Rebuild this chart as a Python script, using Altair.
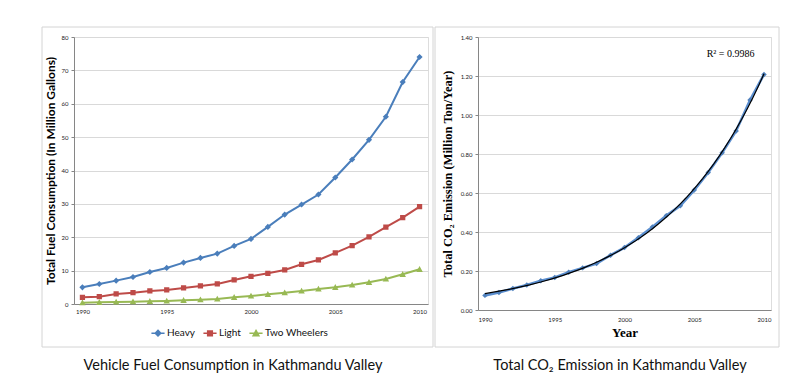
import altair as alt
import pandas as pd

years = list(range(1990, 2011))
heavy = [5.0, 6.0, 7.0, 8.1, 9.6, 10.8, 12.4, 13.8, 15.1, 17.4, 19.5,
         23.1, 26.8, 29.8, 32.8, 37.9, 43.3, 49.2, 56.1, 66.5, 74.0]
light = [2.0, 2.2, 3.0, 3.4, 3.9, 4.2, 4.8, 5.4, 6.0, 7.2, 8.3,
         9.2, 10.2, 11.9, 13.2, 15.3, 17.5, 20.1, 23.0, 25.9, 29.2]
two_wheelers = [0.4, 0.5, 0.6, 0.7, 0.8, 0.9, 1.1, 1.3, 1.5, 2.0, 2.4,
                2.9, 3.4, 3.9, 4.5, 5.0, 5.7, 6.5, 7.5, 8.9, 10.4]
co2 = [0.075, 0.090, 0.110, 0.128, 0.150, 0.167, 0.194, 0.216, 0.238, 0.281, 0.320,
       0.371, 0.426, 0.484, 0.535, 0.615, 0.705, 0.806, 0.918, 1.077, 1.208]

series_names = ["Heavy", "Light", "Two Wheelers"]
series_colors = ["#4A7EBB", "#BE4B48", "#98B954"]
# marker shapes, each with a horizontal stub that is only stroked in the legend
series_shapes = [
    "M-2.4,0H2.4M0,-1L1,0L0,1L-1,0Z",
    "M-2.4,0H2.4M-0.85,-0.85H0.85V0.85H-0.85Z",
    "M-2.4,0H2.4M0,-1.05L1.05,0.85H-1.05Z",
]
x_ticks = [1990, 1995, 2000, 2005, 2010]
fuel_ticks = [0, 10, 20, 30, 40, 50, 60, 70, 80]
co2_ticks = [0, 0.2, 0.4, 0.6, 0.8, 1.0, 1.2, 1.4]
r2_label = ["R\u00b2 = 0.9986"]
r2_pos_year = [2007.6]
r2_pos_value = [1.313]
left_caption = "Vehicle Fuel Consumption in Kathmandu Valley"
right_caption = "Total CO\u2082 Emission in Kathmandu Valley"
left_ytitle = "Total Fuel Consumption (In Million Gallons)"
right_ytitle = "Total CO\u2082 Emission (Million Ton/Year)"
right_xtitle = "Year"

fuel = pd.DataFrame({
    "year": years * 3,
    "series": [series_names[0]] * 21 + [series_names[1]] * 21 + [series_names[2]] * 21,
    "value": heavy + light + two_wheelers,
})
co2_df = pd.DataFrame({"year": years, "value": co2})
r2_df = pd.DataFrame({"year": r2_pos_year, "value": r2_pos_value, "label": r2_label})
one = pd.DataFrame({"k": [0]})

AXIS_GRAY = "#868686"
GRID = "#d9d9d9"
BOX = "#d4d4d4"

LW, LH = 354, 267
RW, RH = 293, 273

# ---------- left chart ----------
lx = alt.X("year:Q", scale=alt.Scale(domain=[1989.5, 2010.5], nice=False, zero=False),
           axis=alt.Axis(values=x_ticks, format="d", title=None, grid=False, ticks=False,
                         labelFontSize=6, labelPadding=4, labelFont="Lato",
                         domainColor=AXIS_GRAY, labelColor="#222"))
ly = alt.Y("value:Q", scale=alt.Scale(domain=[0, 80], nice=False),
           axis=alt.Axis(values=fuel_ticks, title=left_ytitle, titleFont="Lato",
                         titleFontSize=12, titleFontWeight="bold", titleColor="black",
                         titlePadding=4, labelFontSize=6, labelFont="Lato", labelColor="#222",
                         tickSize=3, tickColor=AXIS_GRAY, gridColor=GRID,
                         domainColor=AXIS_GRAY, labelPadding=3))

cscale = alt.Scale(domain=series_names, range=series_colors)
leg = alt.Legend(title=None, orient="none", legendX=79, legendY=291, direction="horizontal",
                 labelFont="Lato", labelFontSize=10, labelColor="#111", symbolSize=30,
                 labelOffset=4, columnPadding=5)

left_lines = alt.Chart(fuel).mark_line(strokeWidth=2).encode(
    x=lx, y=ly, color=alt.Color("series:N", scale=cscale, legend=leg))
left_points = alt.Chart(fuel).mark_point(filled=True, size=38, opacity=1, strokeWidth=2).encode(
    x=lx, y=ly,
    color=alt.Color("series:N", scale=cscale, legend=leg),
    stroke=alt.condition("datum.value < 0",
                         alt.Stroke("series:N", scale=cscale, legend=leg),
                         alt.value("transparent")),
    shape=alt.Shape("series:N", scale=alt.Scale(domain=series_names, range=series_shapes),
                    legend=leg),
)
left_box = alt.Chart(one).mark_rect(fillOpacity=0, stroke=BOX, strokeWidth=1).encode(
    x=alt.value(-32), x2=alt.value(359), y=alt.value(-10), y2=alt.value(310))
left_cap = alt.Chart(one).mark_text(text=left_caption, font="Lato", fontSize=14.5,
                                    color="#111", align="center", baseline="middle").encode(
    x=alt.value(159), y=alt.value(329))

left = alt.layer(left_box, left_lines, left_points, left_cap).properties(width=LW, height=LH)

# ---------- right chart ----------
rx = alt.X("year:Q", scale=alt.Scale(domain=[1989.5, 2010.5], nice=False, zero=False),
           axis=alt.Axis(values=x_ticks, format="d", title=right_xtitle, grid=False, ticks=False,
                         labelFontSize=6, labelPadding=6, labelFont="Lato", labelColor="#222",
                         titleFont="Liberation Serif", titleFontSize=13, titleFontWeight="bold",
                         titleColor="black", titlePadding=4, domainColor=AXIS_GRAY))
ry = alt.Y("value:Q", scale=alt.Scale(domain=[0, 1.4], nice=False),
           axis=alt.Axis(values=co2_ticks, format=".2f", title=right_ytitle,
                         titleFont="Liberation Serif", titleFontSize=12.5, titleFontWeight="bold",
                         titleColor="black", titlePadding=6, labelFontSize=6, labelFont="Lato",
                         labelColor="#222", tickSize=3, tickColor=AXIS_GRAY, gridColor=GRID,
                         domainColor=AXIS_GRAY, labelPadding=3))

r_line = alt.Chart(co2_df).mark_line(color="#5B8FD0", strokeWidth=2.6).encode(x=rx, y=ry)
r_pts = alt.Chart(co2_df).mark_point(filled=True, shape="diamond", size=30, color="#4F81BD",
                                     opacity=1).encode(x=rx, y=ry)
r_trend = alt.Chart(co2_df).transform_regression("year", "value", method="exp").mark_line(
    color="black", strokeWidth=1.2).encode(x=rx, y=ry)
r_text = alt.Chart(r2_df).mark_text(font="Liberation Serif", fontSize=10, color="black",
                                    align="center").encode(x=rx, y=ry, text="label:N")
right_box = alt.Chart(one).mark_rect(fillOpacity=0, stroke=BOX, strokeWidth=1).encode(
    x=alt.value(-43), x2=alt.value(301), y=alt.value(-10), y2=alt.value(310))
right_cap = alt.Chart(one).mark_text(text=right_caption, font="Lato", fontSize=14.5,
                                     color="#111", align="center", baseline="middle").encode(
    x=alt.value(142), y=alt.value(329))

right = alt.layer(right_box, r_line, r_pts, r_trend, r_text, right_cap).properties(width=RW, height=RH)

chart = alt.hconcat(left, right, spacing=50, bounds="flush").properties(
    padding={"left": 33, "top": 18, "right": 5, "bottom": 5}
).configure_view(stroke=None).configure(background="white")

chart.save("out.html", embed_options={"renderer": "svg", "actions": False})
